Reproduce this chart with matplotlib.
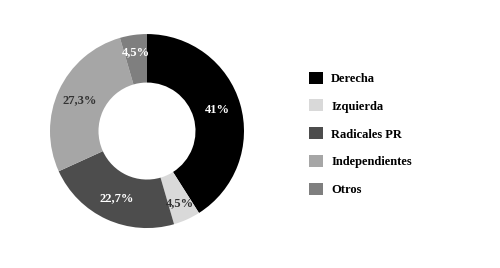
import matplotlib.pyplot as plt
import numpy as np
from matplotlib.patches import Patch

# Datos
labels = ['Derecha', 'Izquierda', 'Radicales PR', 'Independientes', 'Otros']
values = [41.0, 4.5, 22.7, 27.3, 4.5]
pct_text = ['41%', '4,5%', '22,7%', '27,3%', '4,5%']
colors = ['#000000', '#d9d9d9', '#4d4d4d', '#a6a6a6', '#7f7f7f']
text_colors = ['white', '#333333', 'white', '#333333', 'white']

plt.rcParams['font.family'] = ['Liberation Serif', 'DejaVu Serif']

fig = plt.figure(figsize=(5, 2.68), dpi=100)
ax = fig.add_axes([0.1, 0.149, 0.388, 0.724])

wedges, _ = ax.pie(values, colors=colors, startangle=90, counterclock=False,
                   radius=1.0, wedgeprops=dict(width=0.5, edgecolor='none'))

# etiquetas de porcentaje
for w, t, c in zip(wedges, pct_text, text_colors):
    ang = np.deg2rad((w.theta1 + w.theta2) / 2)
    r = 0.82 if (w.theta2 - w.theta1) < 30 else 0.76
    ax.text(r * np.cos(ang), r * np.sin(ang), t, ha='center', va='center',
            fontsize=9, fontweight='bold', color=c)
ax.set_xlim(-1, 1)
ax.set_ylim(-1, 1)
ax.set_aspect('equal')

handles = [Patch(facecolor=c, edgecolor='none') for c in colors]
fig.legend(handles, labels, loc='upper left', bbox_to_anchor=(0.595, 0.775),
           frameon=False, handlelength=1.1, handleheight=1.1,
           labelspacing=1.17, handletextpad=0.7,
           prop=dict(size=9, weight='bold'))

fig.savefig('out.png', dpi=100)
